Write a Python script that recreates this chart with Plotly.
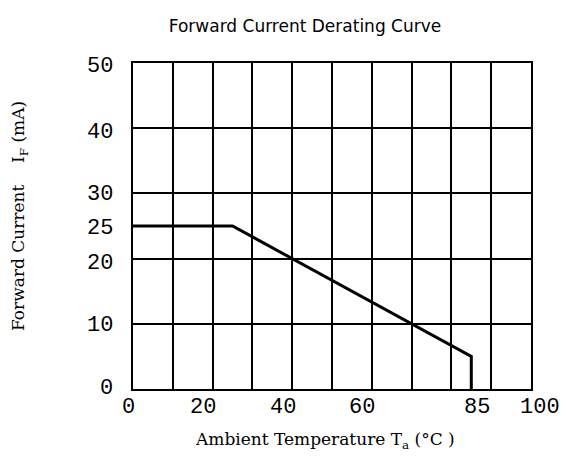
import plotly.graph_objects as go

# ---- data ----
temperature = [0, 25, 85, 85]          # °C
forward_current = [25, 25, 5, 0]       # mA
x_tick_values = [0, 20, 40, 60, 85, 100]
x_tick_labels = ["0", "20", "40", "60", "85", "100"]
y_tick_values = [0, 10, 20, 25, 30, 40, 50]
y_tick_labels = ["0", "10", "20", "25", "30", "40", "50"]
x_grid = list(range(0, 101, 10))
y_grid = list(range(0, 51, 10))

# ---- style ----
W, H = 566, 459
L, R, T, B = 133, 35, 63, 70
x_label_shift = {0: -5, 20: -10, 40: -9, 60: -10, 85: 6, 100: 9}
y_label_shift = {0: 1, 10: -2, 20: -5, 25: -2, 30: -1, 40: -4, 50: -3}
tick_font = dict(family="Liberation Mono", size=22, color="black")
serif_font = dict(family="DejaVu Serif", size=17, color="black")

fig = go.Figure()
fig.add_trace(go.Scatter(x=temperature, y=forward_current, mode="lines",
                         line=dict(color="black", width=3), showlegend=False,
                         hoverinfo="skip"))

axis_common = dict(showgrid=True, gridcolor="black", gridwidth=1.5,
                   showline=True, linecolor="black", linewidth=1.5, mirror=True,
                   zeroline=False, showticklabels=False, ticks="",
                   tickmode="array", fixedrange=True)
fig.update_xaxes(range=[0, 100], tickvals=x_grid, **axis_common)
fig.update_yaxes(range=[0, 50], tickvals=y_grid, **axis_common)

annotations = []
for v, t in zip(x_tick_values, x_tick_labels):
    annotations.append(dict(x=v, y=0, xref="x", yref="paper", text=t,
                            showarrow=False, xanchor="center", yanchor="middle",
                            yshift=-18, xshift=x_label_shift[v], font=tick_font))
for v, t in zip(y_tick_values, y_tick_labels):
    annotations.append(dict(x=0, y=v, xref="paper", yref="y", text=t,
                            showarrow=False, xanchor="right", yanchor="middle",
                            xshift=-18, yshift=y_label_shift[v], font=tick_font))

pw, ph = W - L - R, H - T - B
annotations.append(dict(x=(325 - L) / pw, y=(H - B - 440) / ph, xref="paper", yref="paper",
                        text="Ambient Temperature T<sub>a</sub> (°C )", showarrow=False,
                        xanchor="center", yanchor="middle", font=serif_font))
annotations.append(dict(x=(20 - L) / pw, y=(H - B - 216) / ph, xref="paper", yref="paper",
                        text="Forward Current    I<sub>F</sub> (mA)", showarrow=False,
                        textangle=-90, xanchor="center", yanchor="middle", font=serif_font))

fig.update_layout(
    width=W, height=H,
    margin=dict(l=L, r=R, t=T, b=B, pad=0),
    paper_bgcolor="white", plot_bgcolor="white",
    title=dict(text="Forward Current Derating Curve", x=305 / W, y=1 - 26 / H,
               xref="container", yref="container", xanchor="center", yanchor="middle",
               font=dict(family="DejaVu Sans", size=17, color="black")),
    annotations=annotations,
)

fig.write_html("out.html", config={"displayModeBar": False})
